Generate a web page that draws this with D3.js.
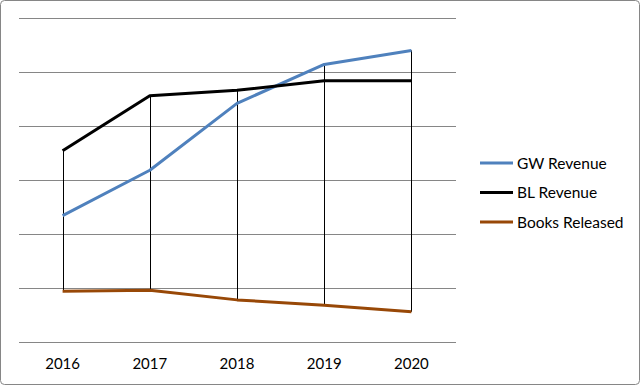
<!DOCTYPE html>
<html>
<head>
<meta charset="utf-8">
<script src="https://cdn.jsdelivr.net/npm/d3@7"></script>
<style>
  html, body { margin: 0; padding: 0; background: #fff; }
  text { font-family: Lato, "Open Sans", sans-serif; fill: #000; }
</style>
</head>
<body>
<div id="chart"></div>
<script>
// data (gridline step = 50)
var years = ["2016", "2017", "2018", "2019", "2020"];
var gwRevenue = [117, 159, 221, 257, 270];
var blRevenue = [177, 228, 233, 242, 242];
var booksReleased = [47, 48, 39, 34, 28];
var yTicks = [0, 50, 100, 150, 200, 250, 300];

var seriesNames = ["GW Revenue", "BL Revenue", "Books Released"];
var seriesColors = ["#4F81BD", "#000000", "#984807"];
var seriesValues = [gwRevenue, blRevenue, booksReleased];

var width = 640, height = 385;
var svg = d3.select("#chart").append("svg")
	.attr("width", width)
	.attr("height", height);

// outer chart border
svg.append("rect")
	.attr("x", 0.5).attr("y", 0.5)
	.attr("width", width - 1).attr("height", height - 1)
	.attr("rx", 4)
	.attr("fill", "#fff")
	.attr("stroke", "#868686");

var x = d3.scalePoint().domain(years).range([19, 455]).padding(0.5);
var y = d3.scaleLinear().domain([0, 300]).range([342, 18]);

// gridlines
svg.append("g")
	.selectAll("line")
	.data(yTicks)
	.enter().append("line")
	.attr("x1", 19).attr("x2", 456)
	.attr("y1", d => Math.round(y(d)) + 0.5)
	.attr("y2", d => Math.round(y(d)) + 0.5)
	.attr("stroke", "#868686")
	.attr("stroke-width", 1);

// high-low lines
svg.append("g")
	.selectAll("line")
	.data(years)
	.enter().append("line")
	.attr("x1", d => Math.round(x(d)) + 0.5)
	.attr("x2", d => Math.round(x(d)) + 0.5)
	.attr("y1", (d, i) => y(d3.max(seriesValues, s => s[i])))
	.attr("y2", (d, i) => y(d3.min(seriesValues, s => s[i])))
	.attr("stroke", "#000")
	.attr("stroke-width", 1);

// series lines
var line = d3.line()
	.x((d, i) => x(years[i]))
	.y(d => y(d));

svg.append("g")
	.selectAll("path")
	.data(seriesValues)
	.enter().append("path")
	.attr("d", d => line(d))
	.attr("fill", "none")
	.attr("stroke", (d, i) => seriesColors[i])
	.attr("stroke-width", 3)
	.attr("stroke-linejoin", "round");

// x axis labels
svg.append("g")
	.selectAll("text")
	.data(years)
	.enter().append("text")
	.attr("x", d => x(d))
	.attr("y", 369)
	.attr("text-anchor", "middle")
	.attr("font-size", "15px")
	.text(d => d);

// legend
var legend = svg.append("g")
	.selectAll("g")
	.data(seriesNames)
	.enter().append("g")
	.attr("transform", (d, i) => "translate(480," + (163 + i * 29.5) + ")");

legend.append("line")
	.attr("x1", 0).attr("x2", 33)
	.attr("y1", 0).attr("y2", 0)
	.attr("stroke", (d, i) => seriesColors[i])
	.attr("stroke-width", 3);

legend.append("text")
	.attr("x", 37)
	.attr("y", 5.5)
	.attr("font-size", "15.5px")
	.text(d => d);
</script>
</body>
</html>
